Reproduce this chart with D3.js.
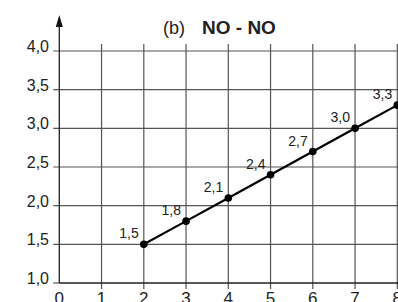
<!DOCTYPE html>
<html>
<head>
<meta charset="utf-8">
<script src="https://cdn.jsdelivr.net/npm/d3@7"></script>
<style>
  body { margin: 0; background: #fff; }
  svg { display: block; font-family: "Liberation Sans", Arial, sans-serif; }
</style>
</head>
<body>
<div id="wrapper"></div>
<script>
// Data
const xValues = [2, 3, 4, 5, 6, 7, 8]
const yValues = [1.5, 1.8, 2.1, 2.4, 2.7, 3.0, 3.3]
const pointLabels = ["1,5", "1,8", "2,1", "2,4", "2,7", "3,0", "3,3"]
const xTicks = [0, 1, 2, 3, 4, 5, 6, 7, 8]
const yTicks = [1.0, 1.5, 2.0, 2.5, 3.0, 3.5, 4.0]
const titlePrefix = "(b)"
const titleMain = "NO - NO"

const dataset = xValues.map((x, i) => ({ x: x, y: yValues[i], label: pointLabels[i] }))

const width = 398
const height = 302

const wrapper = d3.select("#wrapper")
  .append("svg")
  .attr("width", width)
  .attr("height", height)

// Scales
const xScale = d3.scaleLinear()
  .domain([0, 8])
  .range([59.3, 397.3])

const yScale = d3.scaleLinear()
  .domain([1, 4])
  .range([283, 51])

const fmt = d => d3.format(".1f")(d).replace(".", ",")

// Grid
const grid = wrapper.append("g")

grid.selectAll("line.h")
  .data(yTicks.filter(d => d > 1))
  .enter().append("line")
  .attr("x1", xScale(0) - 6)
  .attr("x2", width)
  .attr("y1", d => yScale(d))
  .attr("y2", d => yScale(d))
  .attr("stroke", "#555")
  .attr("stroke-width", 1.2)

grid.selectAll("line.v")
  .data(xTicks.filter(d => d > 0))
  .enter().append("line")
  .attr("x1", d => xScale(d))
  .attr("x2", d => xScale(d))
  .attr("y1", yScale(4) - 7)
  .attr("y2", yScale(1) + 6)
  .attr("stroke", "#555")
  .attr("stroke-width", 1.2)

// Axes
wrapper.append("line")
  .attr("x1", xScale(0))
  .attr("x2", width)
  .attr("y1", yScale(1))
  .attr("y2", yScale(1))
  .attr("stroke", "#222")
  .attr("stroke-width", 1.3)

wrapper.append("line")
  .attr("x1", xScale(0) - 6)
  .attr("x2", xScale(0))
  .attr("y1", yScale(1))
  .attr("y2", yScale(1))
  .attr("stroke", "#555")
  .attr("stroke-width", 1.2)

wrapper.append("line")
  .attr("x1", xScale(0))
  .attr("x2", xScale(0))
  .attr("y1", yScale(1))
  .attr("y2", 24)
  .attr("stroke", "#222")
  .attr("stroke-width", 1.3)

wrapper.append("path")
  .attr("d", `M${xScale(0)},15 L${xScale(0) - 3.5},27 L${xScale(0) + 3.5},27 Z`)
  .attr("fill", "#111")

// Tick labels
wrapper.selectAll("text.ylab")
  .data(yTicks)
  .enter().append("text")
  .attr("x", 49)
  .attr("y", d => yScale(d) + 1)
  .attr("text-anchor", "end")
  .attr("font-size", 16)
  .attr("fill", "#222")
  .text(fmt)

wrapper.selectAll("text.xlab")
  .data(xTicks)
  .enter().append("text")
  .attr("x", d => xScale(d))
  .attr("y", 304)
  .attr("text-anchor", "middle")
  .attr("font-size", 17)
  .attr("fill", "#222")
  .text(d => d)

// Title
wrapper.append("text")
  .attr("x", 163)
  .attr("y", 34)
  .attr("font-size", 18)
  .attr("fill", "#222")
  .text(titlePrefix)

wrapper.append("text")
  .attr("x", 202)
  .attr("y", 34)
  .attr("font-size", 19)
  .attr("font-weight", "bold")
  .attr("fill", "#222")
  .text(titleMain)

// Line + points
const line = d3.line()
  .x(d => xScale(d.x))
  .y(d => yScale(d.y))

wrapper.append("path")
  .datum(dataset)
  .attr("d", line)
  .attr("fill", "none")
  .attr("stroke", "#000")
  .attr("stroke-width", 2.2)

wrapper.selectAll("circle")
  .data(dataset)
  .enter().append("circle")
  .attr("cx", d => xScale(d.x))
  .attr("cy", d => yScale(d.y))
  .attr("r", 3.8)
  .attr("fill", "#000")

wrapper.selectAll("text.pt")
  .data(dataset)
  .enter().append("text")
  .attr("x", d => xScale(d.x) - 5)
  .attr("y", d => yScale(d.y) - 6)
  .attr("text-anchor", "end")
  .attr("font-size", 14)
  .attr("fill", "#222")
  .text(d => d.label)
</script>
</body>
</html>
